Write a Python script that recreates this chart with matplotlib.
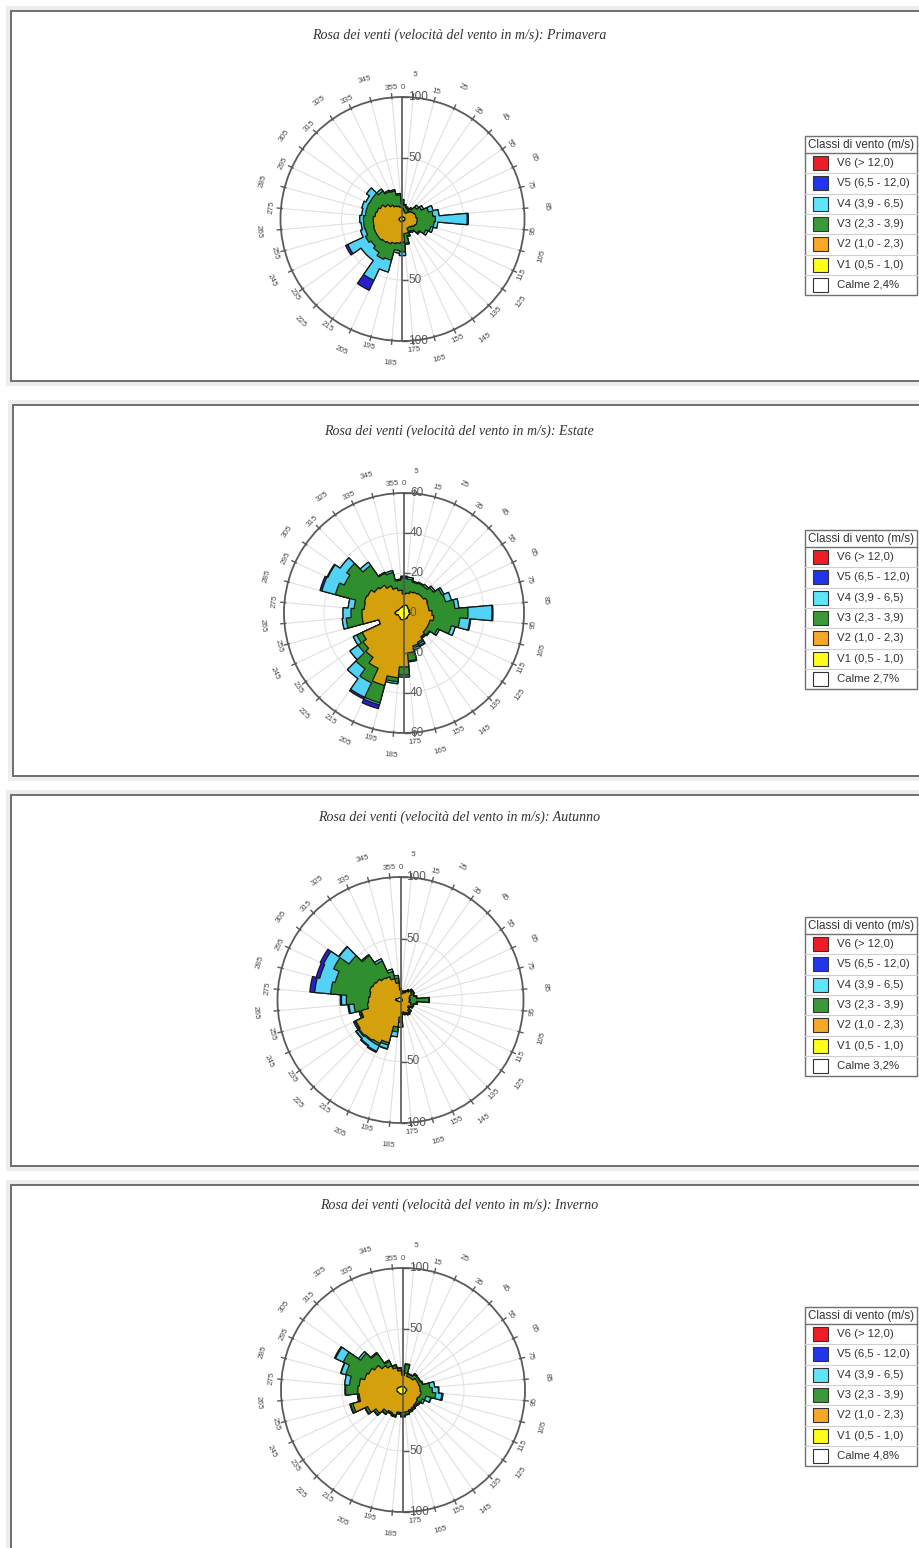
import numpy as np
import matplotlib
matplotlib.use("Agg")
import matplotlib.pyplot as plt
from matplotlib.patches import Rectangle
from matplotlib.markers import TICKRIGHT
from matplotlib.transforms import offset_copy

# settori di 10 gradi (centri) e bordi dei settori
directions = list(range(0, 360, 10))
sector_edges = list(range(5, 360, 10))
label_angles = [0] + sector_edges
label_texts = [str(a) for a in label_angles]

seasons = ["Primavera", "Estate", "Autunno", "Inverno"]
calme = ["Calme 2,4%", "Calme 2,7%", "Calme 3,2%", "Calme 4,8%"]
classi = ["V6 (> 12,0)", "V5 (6,5 - 12,0)", "V4 (3,9 - 6,5)",
          "V3 (2,3 - 3,9)", "V2 (1,0 - 2,3)", "V1 (0,5 - 1,0)"]

# frequenze per direzione e classe di velocita
prim_v1 = [2, 2, 1.5, 1.5, 1.5, 2, 2, 2, 2, 2, 2, 2, 2, 1.5, 1.5, 1.5, 2, 2,
           2, 2, 2, 2.5, 2.5, 2.5, 2.5, 2.5, 3, 3, 2.5, 2.5, 2, 2, 2, 2, 2, 2]
prim_v2 = [7, 5, 4, 4, 6, 7, 8, 9, 9, 10, 10, 10, 9, 8, 7, 7, 10, 10,
           17, 18, 19, 20, 21, 22, 22, 22, 21, 21, 20, 19, 18, 15, 12, 10, 9, 8]
prim_v3 = [3, 4, 4, 3, 3, 5, 7, 11, 14, 15, 14, 12, 10, 7, 4, 3, 2, 8,
           8, 6, 14, 14, 10, 7, 9, 7, 8, 8, 8, 9, 10, 13, 14, 13, 13, 10]
prim_v4 = [1, 1, 1, 1, 1, 2, 2, 4, 5, 26, 3, 2, 2, 1, 1, 1, 1, 1,
           3, 2, 10, 19, 8, 10, 16, 4, 2, 3, 3, 4, 3, 6, 2, 1, 1, 1]
prim_v5 = [3, 0, 0, 0, 0, 0, 0, 0, 0, 1, 0, 0, 0, 0, 0, 0, 0, 0,
           0, 0, 0, 9, 0, 0, 2, 0, 0, 0, 0, 0, 0, 0, 0, 0, 0, 0]
prim_v6 = [0, 0, 0, 0, 0, 0, 0, 0, 0, 0, 0, 0, 0, 0, 0, 0, 0, 0,
           0, 0, 0, 0, 0, 0, 0, 0, 0, 0, 0, 0, 0, 0, 0, 0, 0, 0]

est_v1 = [3.5, 4, 4, 3.5, 3, 3, 3, 2.5, 2.5, 3, 3, 2.5, 2.5, 2.5, 2.5, 3, 3, 3,
          3, 3.5, 3.5, 3.5, 3, 3, 3, 3, 4, 4.5, 4, 3.5, 3, 3, 3, 3, 3, 3.5]
est_v2 = [6, 6, 7, 8, 9, 9, 10, 10, 10, 11, 12, 11, 11, 11, 12, 13, 14, 17,
          24, 29, 34, 27, 24, 22, 20, 10, 17, 16.5, 16, 17, 17, 15, 14, 12, 10, 8]
est_v3 = [8, 7, 5, 5, 4.5, 6, 8, 9, 13, 18, 13, 11, 5, 2, 0.5, 1, 1, 4,
          4, 2, 9, 8, 7, 3, 3, 0, 8, 5.5, 5, 15, 13, 17, 12, 7, 8, 5]
est_v4 = [0.5, 1, 0.5, 0.5, 1, 1, 1, 3, 2, 12, 5, 2, 1, 0.5, 0.5, 1, 1, 0.5,
          1, 1, 1, 8, 6, 5, 2, 0, 2, 4, 3, 7, 9, 4, 2, 0.5, 1, 0.5]
est_v5 = [0.5, 0, 0, 0, 0, 0, 0, 0, 0, 0.5, 0.5, 0, 0, 0, 0, 0.5, 0, 0,
          0, 0, 2, 1, 0, 0, 0, 0, 0, 0, 0, 1, 0.5, 0, 0, 0, 0, 0]
est_v6 = [0, 0, 0, 0, 0, 0, 0, 0, 0, 0, 0, 0, 0, 0, 0, 0, 0, 0,
          0, 0, 0, 0, 0, 0, 0, 0, 0, 0, 0, 0, 0, 0, 0, 0, 0, 0]

aut_v1 = [1.5, 1.5, 1.5, 1.5, 1.5, 1.5, 1.5, 1.5, 1.5, 1.5, 1.5, 1.5, 1.5, 1.5, 1.5, 1.5, 1.5, 1.5,
          1.5, 1.5, 1.5, 1.5, 1.5, 2, 2, 2, 3, 4, 4, 3, 2, 2, 2, 2, 2, 2]
aut_v2 = [6.5, 3.5, 4.5, 5.5, 7.5, 9.5, 8.5, 6.5, 5.5, 6.5, 5.5, 7.5, 8.5, 6.5, 8.5, 10.5, 9.5, 8.5,
          12.5, 20.5, 34.5, 37.5, 38.5, 39, 38, 31, 24, 22, 21, 23, 23, 22, 20, 19, 16, 12]
aut_v3 = [1, 2, 1, 1, 1, 1, 2, 3, 6, 15, 6, 2, 1, 1, 2, 1, 1, 1,
          4, 4, 2, 2, 1, 1, 1, 1, 11, 18, 32, 29, 35, 27, 22, 14, 6, 4]
aut_v4 = [0.5, 0.5, 0.5, 0.5, 0.5, 0.5, 0.5, 0.5, 0.5, 0.5, 1, 0.5, 0.5, 0.5, 0.5, 0.5, 0.5, 1,
          4, 4, 3, 5, 4, 2, 1, 1, 4, 4, 13, 13, 9, 10, 1, 2, 2, 2]
aut_v5 = [0, 0, 0, 0, 0, 0, 0, 0, 0, 0, 0, 0, 0, 0, 0, 0, 0, 0,
          0, 0, 0.5, 1, 1, 0.5, 0, 0, 1, 1, 4, 3, 3, 0.5, 0, 0, 0, 0]
aut_v6 = [0, 0, 0, 0, 0, 0, 0, 0, 0, 0, 0, 0, 0, 0, 0, 0, 0, 0,
          0, 0, 0, 0, 0, 0, 0, 0, 0, 0, 0, 0, 0, 0, 0, 0, 0, 0]

inv_v1 = [3, 3, 2.5, 2.5, 2.5, 2.5, 2.5, 2.5, 3, 3, 3, 2.5, 2.5, 2.5, 3, 3, 3, 3,
          3.5, 3.5, 3.5, 3.5, 4, 4, 4, 4.5, 5, 5, 5, 4.5, 4, 3.5, 3.5, 3, 3, 3]
inv_v2 = [9, 11, 9, 9, 9, 11, 11, 11, 11, 11, 12, 12, 11, 12, 12, 13, 14, 15,
          15, 15, 18, 17, 18, 23, 28, 38, 31, 32, 31, 28, 27, 25, 21, 19, 16, 13]
inv_v3 = [3, 7, 2, 2, 4, 2, 2, 3, 8, 10, 12, 5, 4, 2, 1, 1, 1, 2,
          3, 1, 1, 1, 2, 2, 2, 2, 1, 10, 8, 16, 23, 14, 12, 4, 2, 2]
inv_v4 = [0.5, 0.5, 0.5, 0.5, 1, 0.5, 0.5, 0.5, 4, 5, 5, 4, 2, 1, 1, 1, 1, 0.5,
          0.5, 0.5, 0.5, 0.5, 0.5, 0.5, 0.5, 0.5, 0.5, 0.5, 4, 4, 7, 2, 1, 1, 0.5, 0.5]
inv_v5 = [0, 0, 0, 0, 0, 0, 0, 0, 0, 0.5, 1, 0.5, 0, 0, 0, 0, 0, 0,
          0, 0, 0, 0, 0, 0, 0, 0, 0, 0, 0, 0.5, 1, 0, 0, 0, 0, 0]
inv_v6 = [0, 0, 0, 0, 0, 0, 0, 0, 0, 0, 0, 0, 0, 0, 0, 0, 0, 0,
          0, 0, 0, 0, 0, 0, 0, 0, 0, 0, 0, 0, 0, 0, 0, 0, 0, 0]

season_data = [
    [prim_v1, prim_v2, prim_v3, prim_v4, prim_v5, prim_v6],
    [est_v1, est_v2, est_v3, est_v4, est_v5, est_v6],
    [aut_v1, aut_v2, aut_v3, aut_v4, aut_v5, aut_v6],
    [inv_v1, inv_v2, inv_v3, inv_v4, inv_v5, inv_v6],
]

r_max = [100, 60, 100, 100]
ring_vals = [[50], [20, 40], [50], [50]]
axis_vals = [[50, 100], [20, 40, 60], [50, 100], [50, 100]]

# colori (V1 ... V6)
rose_colors = ["#ffff10", "#d4a00c", "#2f8f2f", "#52d2f4", "#2a1fd0", "#e01e26"]
key_colors = ["#ffff1a", "#f6a826", "#3a9a3a", "#5ee6f8", "#2234ec", "#ee1c25"]

# geometria in pixel
W, H = 919, 1548
panel_top = [11, 405, 795, 1185]
panel_bot = [381, 776, 1166, 1570]
panel_left = [10.5, 13, 11, 11]
title_y = [35, 431, 817, 1205]
rose_cx = [402.5, 404, 400.5, 403]
rose_cy = [219, 613, 1000, 1390]
rose_r = [122, 120, 123, 122]

fig = plt.figure(figsize=(W / 100, H / 100), dpi=100)
fig.patch.set_facecolor("white")


def px_rect(x0, y0, x1, y1, **kw):
    r = Rectangle((x0 / W, 1 - y1 / H), (x1 - x0) / W, (y1 - y0) / H,
                  transform=fig.transFigure, **kw)
    fig.add_artist(r)
    return r


def px_line(x0, y0, x1, y1, **kw):
    fig.add_artist(plt.Line2D([x0 / W, x1 / W], [1 - y0 / H, 1 - y1 / H],
                              transform=fig.transFigure, **kw))


def step_outline(values):
    th, rr = [], []
    for d, v in zip(directions, values):
        t = np.deg2rad(np.linspace(d - 5, d + 5, 9))
        th.extend(t)
        rr.extend([v] * len(t))
    return th, rr


for p in range(4):
    top, bot, left = panel_top[p], panel_bot[p], panel_left[p]
    # cornice del riquadro
    px_rect(left - 5, top - 5, W + 10, bot + 5, facecolor="#ededed",
            edgecolor="none", zorder=-3)
    px_rect(left, top, W + 10, bot, facecolor="white", edgecolor="#6e6e6e",
            lw=1.4, zorder=-2)

    fig.text(459 / W, 1 - title_y[p] / H,
             "Rosa dei venti (velocità del vento in m/s): " + seasons[p],
             ha="center", va="center", fontsize=10, style="italic",
             family="Liberation Serif", color="#333333")

    cx, cy, R = rose_cx[p], rose_cy[p], rose_r[p]
    ax = fig.add_axes([(cx - R) / W, 1 - (cy + R) / H, 2 * R / W, 2 * R / H],
                      projection="polar")
    ax.set_theta_zero_location("N")
    ax.set_theta_direction(-1)
    ax.set_axisbelow(True)
    rmax = r_max[p]

    # settori impilati, dal piu esterno al piu interno
    vals = np.array(season_data[p], dtype=float)
    cum = np.cumsum(vals, axis=0)
    for k in range(5, -1, -1):
        if not np.any(vals[k] > 0):
            continue
        th, rr = step_outline(cum[k])
        ax.fill(th, rr, facecolor=rose_colors[k], edgecolor="#101810",
                lw=0.9, zorder=2 + (5 - k) * 0.01)

    ax.set_ylim(0, rmax)
    ax.set_xticks(np.deg2rad(sector_edges))
    ax.set_xticklabels([])
    ax.set_yticks(ring_vals[p])
    ax.set_yticklabels([])
    ax.tick_params(length=0)
    ax.xaxis.grid(True, color="#e0e0e0", lw=0.8)
    ax.yaxis.grid(True, color="#e3e3e3", lw=0.8)
    ax.spines["polar"].set_color("#5a5a5a")
    ax.spines["polar"].set_linewidth(1.3)

    # tacche sulla circonferenza
    tt, tr = [], []
    for a in sector_edges:
        tt += [np.deg2rad(a), np.deg2rad(a), np.nan]
        tr += [rmax * 0.99, rmax * 1.03, np.nan]
    ax.plot(tt, tr, color="#5a5a5a", lw=1, clip_on=False, zorder=6)

    # etichette delle direzioni, sfalsate su due raggi
    for a, lab in zip(label_angles, label_texts):
        inner = a == 0 or (a - 15) % 20 == 0
        rr = rmax * (1.08 if inner else 1.185)
        rot = -a
        if 90 < a < 270:
            rot += 180
        ax.text(np.deg2rad(a), rr, lab, rotation=rot, rotation_mode="anchor",
                ha="center", va="center", fontsize=5.8, color="#4a4a4a",
                family="Liberation Sans", clip_on=False)

    # asse verticale con le scale
    ax.plot([0, 0], [0, rmax], color="#555555", lw=1.2, zorder=5)
    ax.plot([np.pi, np.pi], [0, rmax], color="#555555", lw=1.2, zorder=5)
    av = axis_vals[p]
    ax.plot([0] * len(av), av, ls="none", marker=TICKRIGHT, ms=4, mew=1,
            color="#555555", zorder=6, clip_on=False)
    ax.plot([np.pi] * len(av), av, ls="none", marker=TICKRIGHT, ms=4, mew=1,
            color="#555555", zorder=6, clip_on=False)
    lab_tr = offset_copy(ax.transData, fig=fig, x=6, y=0, units="dots")
    for v in av:
        ax.text(0, v, str(v), transform=lab_tr, ha="left", va="center",
                fontsize=8.5, color="#555555", family="Liberation Sans", zorder=7)
        ax.text(np.pi, v, str(v), transform=lab_tr, ha="left", va="center",
                fontsize=8.5, color="#555555", family="Liberation Sans", zorder=7)
    if p == 1:
        ax.text(0, 0, "0", transform=lab_tr, ha="left", va="center",
                fontsize=8.5, color="#555555", family="Liberation Sans", zorder=7)

    # legenda delle classi di vento
    hy = cy - 74
    lx0, lx1 = 805, 917
    row_h = 20.3
    first = hy + 8
    last = first + row_h * 7
    px_rect(lx0, hy - 9, lx1, last, facecolor="white", edgecolor="#707070",
            lw=1, zorder=3)
    px_line(lx0, first, lx1, first, color="#707070", lw=1, zorder=4)
    fig.text(861 / W, 1 - hy / H, "Classi di vento (m/s)", ha="center",
             va="center", fontsize=8.4, color="#333333", family="Liberation Sans",
             zorder=5)
    names = classi + [calme[p]]
    fills = key_colors[::-1] + ["white"]
    for i, (nm, fc) in enumerate(zip(names, fills)):
        yc = first + row_h * (i + 0.5)
        if i > 0:
            px_line(lx0, first + row_h * i, lx1, first + row_h * i,
                    color="#cfcfcf", lw=0.8, zorder=4)
        px_rect(813, yc - 7, 828, yc + 7, facecolor=fc, edgecolor="#333333",
                lw=0.8, zorder=5)
        fig.text(837 / W, 1 - yc / H, nm, ha="left", va="center",
                 fontsize=8.2, color="#333333", family="Liberation Sans",
                 zorder=5)

fig.savefig("out.png", dpi=100, facecolor=fig.get_facecolor())
